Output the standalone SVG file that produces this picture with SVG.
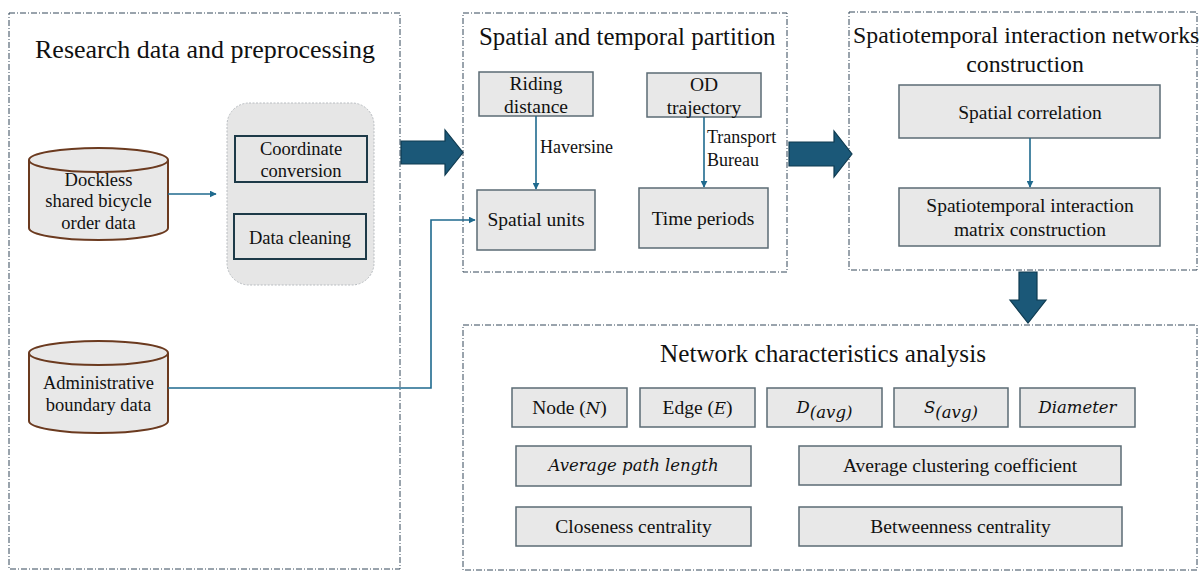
<svg xmlns="http://www.w3.org/2000/svg" width="1200" height="572" viewBox="0 0 1200 572">
  <defs>
    <marker id="tip" viewBox="0 0 10 10" refX="9" refY="5" markerWidth="7" markerHeight="7" markerUnits="userSpaceOnUse" orient="auto">
      <path d="M0,0 L10,5 L0,10 Z" fill="#1f6a8e"/>
    </marker>
    <style>
      .panel { fill: none; stroke: #34495a; stroke-width: 1; stroke-dasharray: 6 2 1 2; }
      .title { font-family: "Liberation Serif", serif; fill: #111; }
      .txt { font-family: "Liberation Serif", serif; font-size: 19.5px; fill: #111; text-anchor: middle; }
      .sm { font-size: 18.5px; }
      .lbl { font-family: "Liberation Serif", serif; font-size: 18px; fill: #111; }
      .math { font-family: "DejaVu Serif", serif; font-style: italic; font-size: 16.5px; }
      .box { fill: #e8e8e8; stroke: #5b6b74; stroke-width: 1.5; }
      .dark { fill: none; stroke: #1d3a48; stroke-width: 2; }
      .cyl { fill: #e8e8e8; stroke: #6b3a1f; stroke-width: 2; }
      .link { fill: none; stroke: #1f6a8e; stroke-width: 1.6; }
      .big { fill: #1b5878; stroke: #0e3a50; stroke-width: 1.2; }
    </style>
  </defs>

  <rect width="1200" height="572" fill="#ffffff"/>

  <!-- panel frames -->
  <g id="panels">
    <rect class="panel" x="9" y="13" width="391" height="556"/>
    <rect class="panel" x="463" y="13" width="324" height="259"/>
    <rect class="panel" x="849" y="12" width="348" height="258"/>
    <rect class="panel" x="463" y="325" width="734" height="245"/>
  </g>

  <!-- panel titles -->
  <g id="titles">
    <text class="title" x="35" y="58" font-size="26">Research data and preprocessing</text>
    <text class="title" x="479" y="45" font-size="24.9">Spatial and temporal partition</text>
    <text class="title" x="853" y="43" font-size="23.8">Spatiotemporal interaction networks</text>
    <text class="title" x="1025" y="72" font-size="23.8" text-anchor="middle">construction</text>
    <text class="title" x="823" y="362" font-size="25.2" text-anchor="middle">Network characteristics analysis</text>
  </g>

  <!-- data sources -->
  <g id="node-bicycle-orders">
    <path class="cyl" d="M29,160 L29,228 A69.5,12 0 0 0 168,228 L168,160"/>
    <ellipse class="cyl" cx="98.5" cy="160" rx="69.5" ry="12"/>
    <text class="txt sm" x="98.5" y="186">Dockless</text>
    <text class="txt sm" x="98.5" y="207">shared bicycle</text>
    <text class="txt sm" x="98.5" y="229">order data</text>
  </g>

  <g id="node-admin-boundary">
    <path class="cyl" d="M29,353 L29,421 A69.5,12 0 0 0 168,421 L168,353"/>
    <ellipse class="cyl" cx="98.5" cy="353" rx="69.5" ry="12"/>
    <text class="txt sm" x="98.5" y="389">Administrative</text>
    <text class="txt sm" x="98.5" y="411">boundary data</text>
  </g>

  <!-- preprocessing group -->
  <g id="node-preprocessing">
    <rect x="227" y="103" width="147" height="182" rx="22" fill="#e6e6e6" stroke="#b8bcc0" stroke-width="1" stroke-dasharray="2 1.5"/>
    <rect class="dark" x="235" y="136" width="132" height="46"/>
    <text class="txt sm" x="301" y="155">Coordinate</text>
    <text class="txt sm" x="301" y="177">conversion</text>
    <rect class="dark" x="234" y="214" width="132" height="45"/>
    <text class="txt sm" x="300" y="244">Data cleaning</text>
  </g>

  <!-- spatial and temporal partition -->
  <g id="node-riding-distance">
    <rect class="box" x="479" y="72" width="114" height="44"/>
    <text class="txt" x="536" y="90">Riding</text>
    <text class="txt" x="536" y="113">distance</text>
  </g>
  <g id="node-od-trajectory">
    <rect class="box" x="647" y="73" width="114" height="44"/>
    <text class="txt" x="704" y="91">OD</text>
    <text class="txt" x="704" y="114">trajectory</text>
  </g>
  <g id="node-spatial-units">
    <rect class="box" x="477" y="190" width="118" height="60"/>
    <text class="txt" x="536" y="226">Spatial units</text>
  </g>
  <g id="node-time-periods">
    <rect class="box" x="639" y="188" width="129" height="60"/>
    <text class="txt" x="703" y="225">Time periods</text>
  </g>

  <!-- network construction -->
  <g id="node-spatial-correlation">
    <rect class="box" x="899" y="85" width="261" height="53"/>
    <text class="txt" x="1030" y="119">Spatial correlation</text>
  </g>
  <g id="node-interaction-matrix">
    <rect class="box" x="899" y="188" width="261" height="58"/>
    <text class="txt" x="1030" y="212">Spatiotemporal interaction</text>
    <text class="txt" x="1030" y="236">matrix construction</text>
  </g>

  <!-- network characteristics -->
  <g id="node-n">
    <rect class="box" x="512" y="388" width="115" height="39"/>
    <text class="txt" x="569.5" y="414">Node (<tspan class="math">N</tspan>)</text>
  </g>
  <g id="node-e">
    <rect class="box" x="640" y="388" width="115" height="39"/>
    <text class="txt" x="697.5" y="414">Edge (<tspan class="math">E</tspan>)</text>
  </g>
  <g id="node-davg">
    <rect class="box" x="767" y="388" width="115" height="39"/>
    <text class="txt" x="824.5" y="413"><tspan class="math">D</tspan><tspan class="math" font-size="12" dy="5">(avg)</tspan></text>
  </g>
  <g id="node-savg">
    <rect class="box" x="894" y="388" width="114" height="39"/>
    <text class="txt" x="951" y="413"><tspan class="math">S</tspan><tspan class="math" font-size="12" dy="5">(avg)</tspan></text>
  </g>
  <g id="node-diameter">
    <rect class="box" x="1020" y="388" width="115" height="39"/>
    <text class="txt math" x="1077.5" y="413">Diameter</text>
  </g>
  <g id="node-avg-path">
    <rect class="box" x="516" y="446" width="235" height="40"/>
    <text class="txt math" x="633.5" y="471">Average path length</text>
  </g>
  <g id="node-avg-clustering">
    <rect class="box" x="799" y="446" width="322" height="39"/>
    <text class="txt" x="960" y="472">Average clustering coefficient</text>
  </g>
  <g id="node-closeness">
    <rect class="box" x="516" y="507" width="235" height="39"/>
    <text class="txt" x="633.5" y="533">Closeness centrality</text>
  </g>
  <g id="node-betweenness">
    <rect class="box" x="799" y="507" width="323" height="39"/>
    <text class="txt" x="960.5" y="533">Betweenness centrality</text>
  </g>

  <!-- connectors -->
  <g id="connectors">
    <line class="link" x1="168" y1="194" x2="216" y2="194" marker-end="url(#tip)"/>
    <polyline class="link" points="168,388 431,388 431,220 475,220" marker-end="url(#tip)"/>
    <line class="link" x1="536" y1="116" x2="536" y2="189" marker-end="url(#tip)"/>
    <line class="link" x1="704" y1="117" x2="704" y2="187" marker-end="url(#tip)"/>
    <line class="link" x1="1030" y1="138" x2="1030" y2="187" marker-end="url(#tip)"/>
    <text class="lbl" x="540" y="153">Haversine</text>
    <text class="lbl" x="707" y="143">Transport</text>
    <text class="lbl" x="707" y="166">Bureau</text>
    <path class="big" d="M401,141 L445,141 L445,130 L463,152.5 L445,175 L445,164 L401,164 Z"/>
    <path class="big" d="M789,142 L834,142 L834,131 L852,154 L834,177 L834,166 L789,166 Z"/>
    <path class="big" d="M1019,272 L1037,272 L1037,300 L1046,300 L1028,323 L1010,300 L1019,300 Z"/>
  </g>
</svg>
